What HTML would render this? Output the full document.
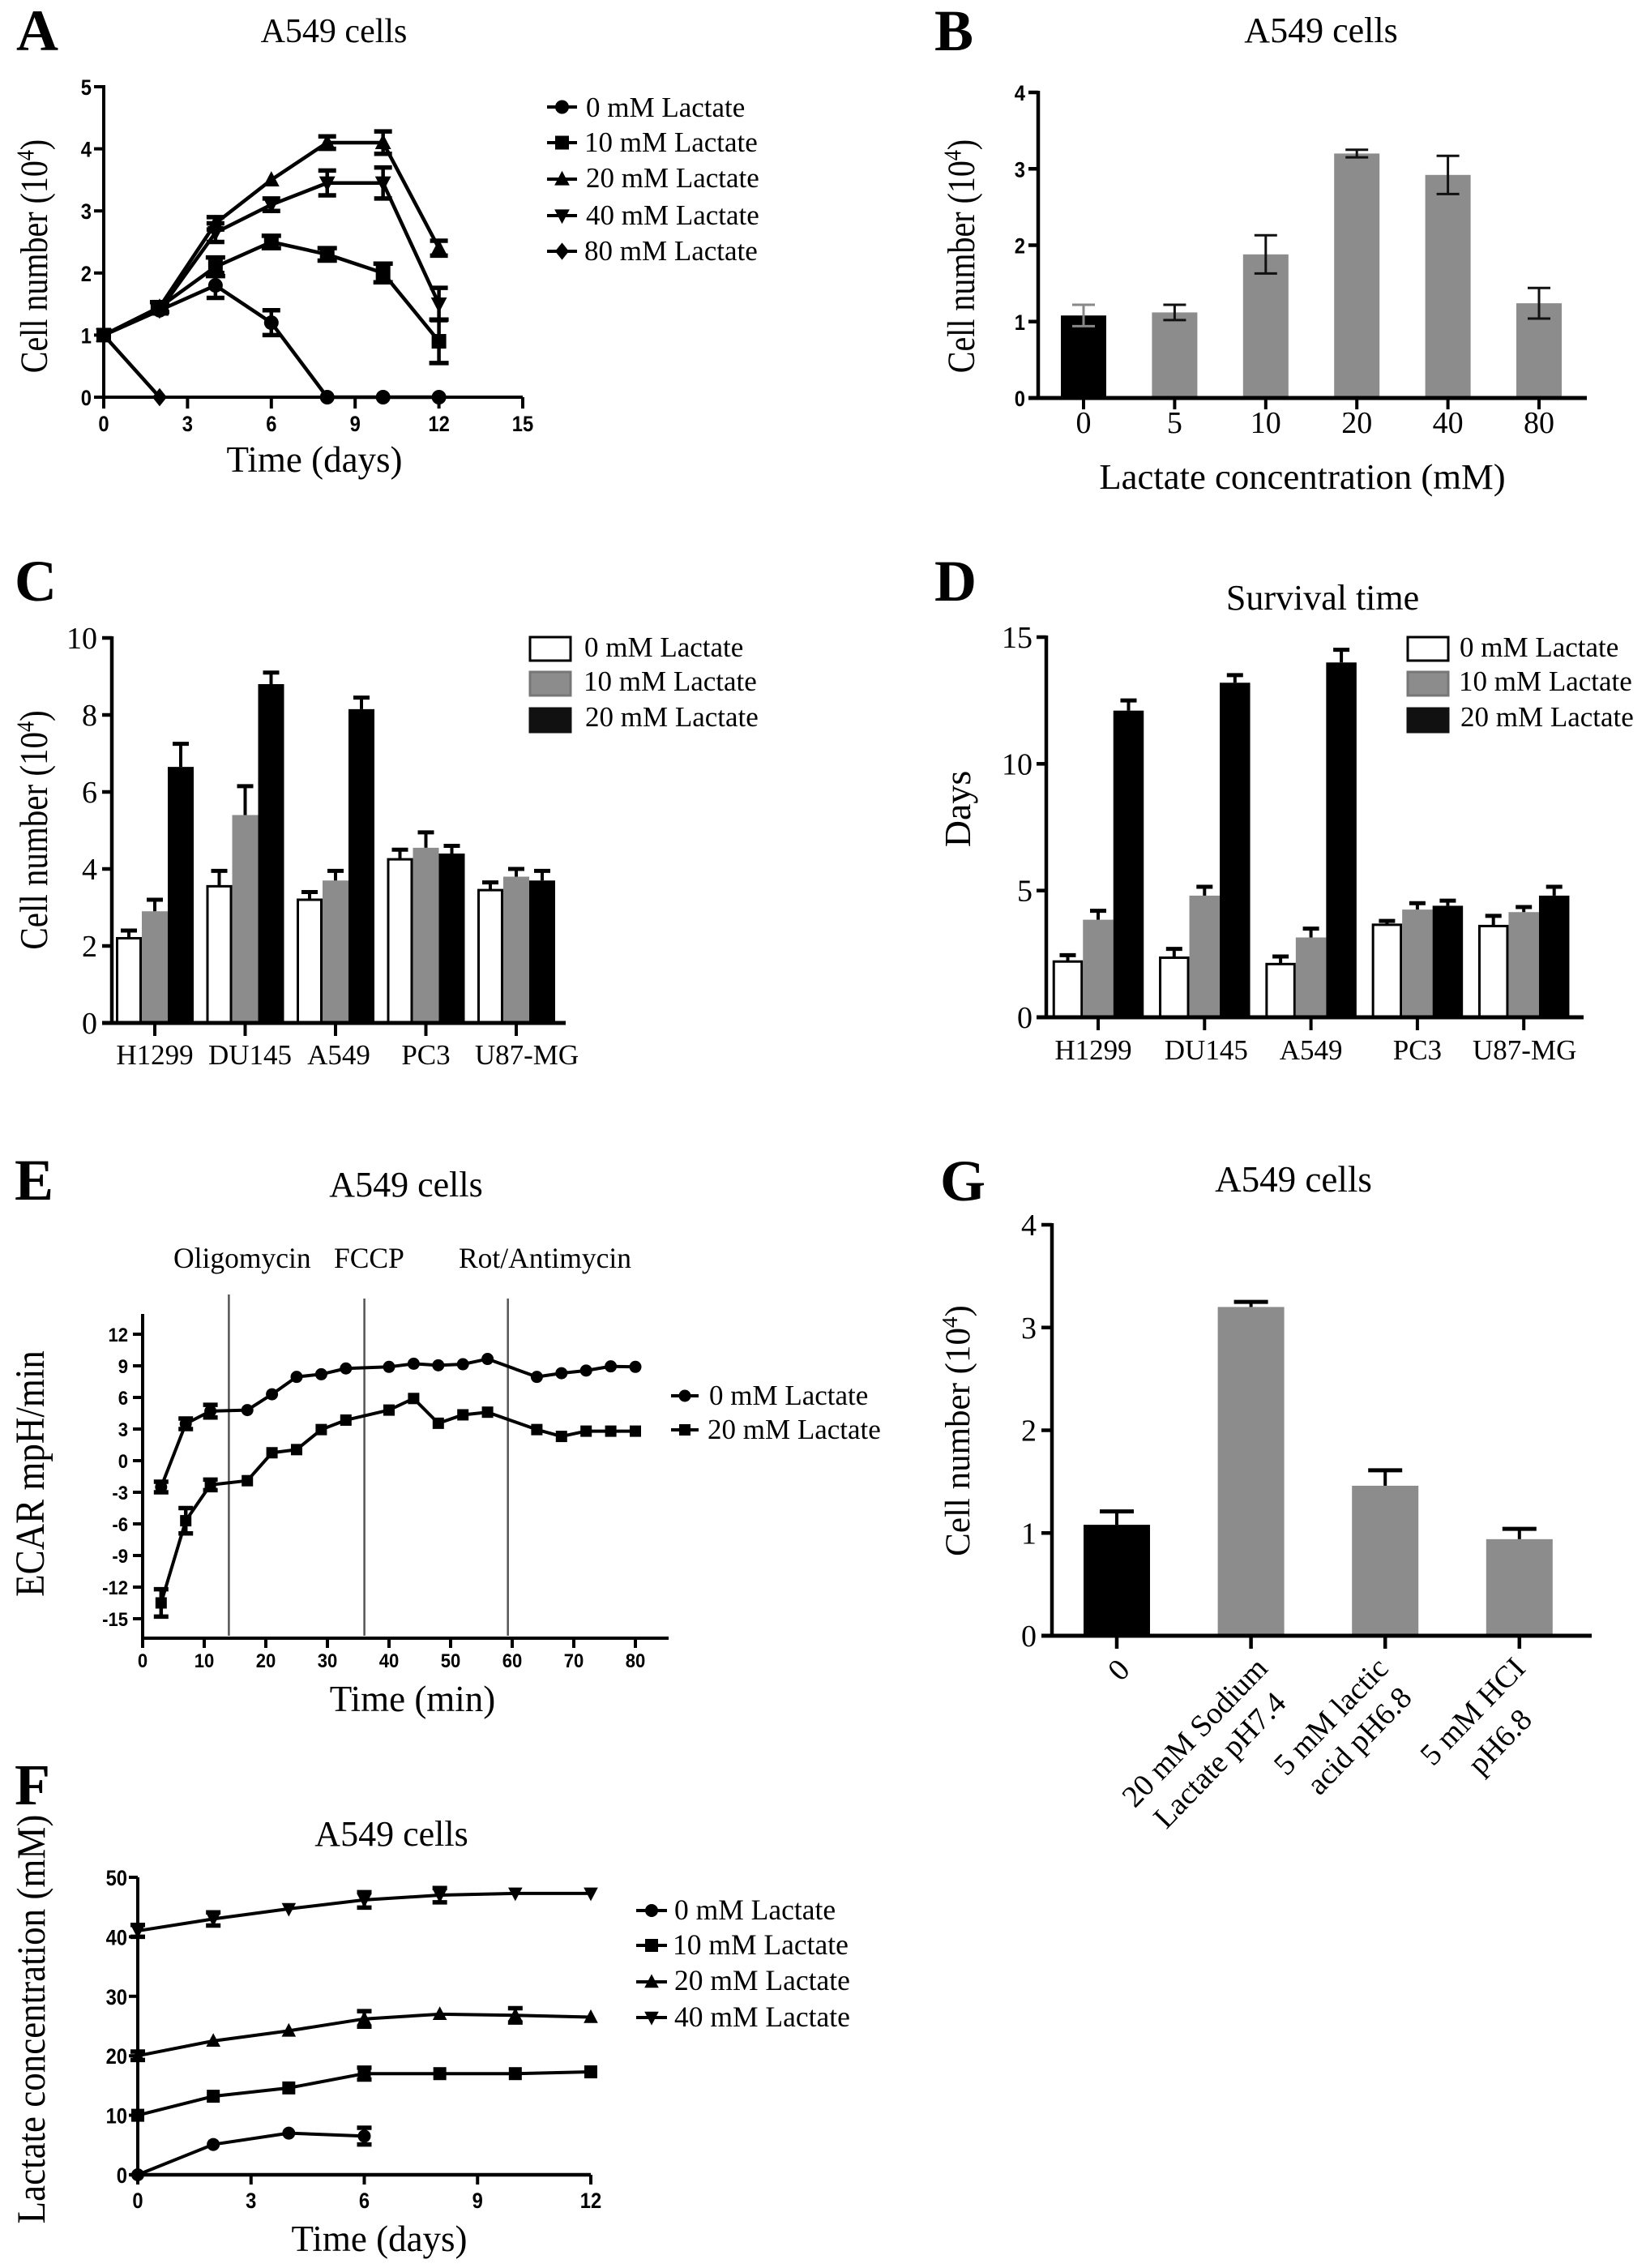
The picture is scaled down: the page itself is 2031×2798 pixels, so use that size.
<!DOCTYPE html>
<html lang="en">
<head>
<meta charset="utf-8">
<title>Lactate effects on A549 and other cell lines</title>
<style>
html,body{margin:0;padding:0;background:#fff;width:2031px;height:2798px;overflow:hidden}
svg{display:block}
text{font-family:"Liberation Serif",serif;fill:#000}
.letter{font-weight:bold;font-size:72px}
.title{font-size:42px;text-anchor:middle}
.axt{font-size:44px;text-anchor:middle}
.yt{font-size:40px;text-anchor:middle}
.leg{font-size:35px}
.ann{font-size:35.5px}
.cat{font-size:38px;text-anchor:end}
</style>
</head>
<body>
<svg id="fig" xmlns="http://www.w3.org/2000/svg" width="2031" height="2798" viewBox="0 0 2031 2798">
<rect x="0" y="0" width="2031" height="2798" fill="#fff"/>

<text class="letter" x="20" y="62">A</text>
<text class="title" x="412" y="52">A549 cells</text>
<text class="axt" x="388" y="582" style="font-size:45px">Time (days)</text>
<text class="yt" transform="translate(58,316) rotate(-90) scale(1,1.18)">Cell number (10<tspan font-size="26" dy="-14">4</tspan><tspan dy="14">)</tspan></text>
<text class="leg" x="723" y="144">0 mM Lactate</text>
<text class="leg" x="721" y="187">10 mM Lactate</text>
<text class="leg" x="723" y="231">20 mM Lactate</text>
<text class="leg" x="723" y="277">40 mM Lactate</text>
<text class="leg" x="721" y="321">80 mM Lactate</text>

<text class="letter" x="1153" y="62">B</text>
<text class="title" x="1630" y="52" style="font-size:44px">A549 cells</text>
<text class="axt" x="1607" y="603" style="font-size:44.7px">Lactate concentration (mM)</text>
<text class="yt" transform="translate(1202,316) rotate(-90) scale(1,1.18)">Cell number (10<tspan font-size="26" dy="-14">4</tspan><tspan dy="14">)</tspan></text>

<text class="letter" x="18" y="741">C</text>
<text class="yt" transform="translate(58,1024) rotate(-90) scale(1,1.18)" style="font-size:41px">Cell number (10<tspan font-size="26" dy="-14">4</tspan><tspan dy="14">)</tspan></text>
<text class="leg" x="721" y="810">0 mM Lactate</text>
<text class="leg" x="720" y="852">10 mM Lactate</text>
<text class="leg" x="722" y="896">20 mM Lactate</text>

<text class="letter" x="1153" y="741">D</text>
<text class="title" x="1632" y="752" style="font-size:44px">Survival time</text>
<text class="yt" transform="translate(1197,998) rotate(-90)" style="font-size:46px">Days</text>
<text class="leg" x="1801" y="810">0 mM Lactate</text>
<text class="leg" x="1800" y="852">10 mM Lactate</text>
<text class="leg" x="1802" y="896">20 mM Lactate</text>

<text class="letter" x="18" y="1480">E</text>
<text class="title" x="501" y="1476" style="font-size:44px">A549 cells</text>
<text class="ann" x="214" y="1564">Oligomycin</text>
<text class="ann" x="412" y="1564">FCCP</text>
<text class="ann" x="566" y="1564">Rot/Antimycin</text>
<text class="axt" x="509" y="2111" style="font-size:45px">Time (min)</text>
<text class="yt" transform="translate(54,1818) rotate(-90) scale(1,1.12)" style="font-size:45px">ECAR mpH/min</text>
<text class="leg" x="875" y="1733">0 mM Lactate</text>
<text class="leg" x="873" y="1775">20 mM Lactate</text>

<text class="letter" x="18" y="2226">F</text>
<text class="title" x="483" y="2277" style="font-size:44px">A549 cells</text>
<text class="axt" x="468" y="2777" style="font-size:45px">Time (days)</text>
<text class="yt" transform="translate(55,2491) rotate(-90) scale(1,1.1)" style="font-size:45px">Lactate concentration (mM)</text>
<text class="leg" x="832" y="2368" style="font-size:35.5px">0 mM Lactate</text>
<text class="leg" x="830" y="2411" style="font-size:35.5px">10 mM Lactate</text>
<text class="leg" x="832" y="2455" style="font-size:35.5px">20 mM Lactate</text>
<text class="leg" x="832" y="2500" style="font-size:35.5px">40 mM Lactate</text>

<text class="letter" x="1160" y="1481">G</text>
<text class="title" x="1596" y="1470" style="font-size:45px">A549 cells</text>
<text class="yt" transform="translate(1196,1765) rotate(-90)" style="font-size:43px">Cell number (10<tspan font-size="27" dy="-15">4</tspan><tspan dy="15">)</tspan></text>
<g transform="translate(1396,2062) rotate(-46)"><text class="cat" x="0" y="0">0</text></g>
<g transform="translate(1566,2060) rotate(-46)"><text class="cat" x="0" y="0">20 mM Sodium</text><text class="cat" x="-15" y="46">Lactate pH7.4</text></g>
<g transform="translate(1715,2060) rotate(-46)"><text class="cat" x="0" y="0">5 mM lactic</text><text class="cat" x="-6" y="46">acid pH6.8</text></g>
<g transform="translate(1884,2060) rotate(-46)"><text class="cat" x="0" y="0">5 mM HCI</text><text class="cat" x="-40" y="50">pH6.8</text></g>
</svg>

<script>
/* ---------- Panel A data ---------- */
const aDays = [0, 2, 4, 6, 8, 10, 12];
const a0Mean = [1, 1.4, 1.8, 1.2, 0, 0, 0];
const a0Err = [0, 0.05, 0.2, 0.2, 0, 0, 0];
const a10Mean = [1, 1.45, 2.1, 2.5, 2.3, 2, 0.9];
const a10Err = [0, 0.08, 0.15, 0.1, 0.1, 0.15, 0.35];
const a20Mean = [1, 1.45, 2.8, 3.5, 4.1, 4.1, 2.4];
const a20Err = [0, 0.05, 0.1, 0, 0.1, 0.18, 0.12];
const a40Mean = [1, 1.4, 2.65, 3.1, 3.45, 3.45, 1.5];
const a40Err = [0, 0.05, 0.15, 0.1, 0.2, 0.25, 0.26];
const a80Days = [0, 2];
const a80Mean = [1, 0];
const a80Err = [0, 0];
const aXTicks = [0, 3, 6, 9, 12, 15];
const aYTicks = [0, 1, 2, 3, 4, 5];

/* ---------- Panel B data ---------- */
const bCats = ['0', '5', '10', '20', '40', '80'];
const bMean = [1.08, 1.12, 1.88, 3.2, 2.92, 1.24];
const bErr = [0.14, 0.1, 0.25, 0.05, 0.25, 0.2];
const bYTicks = [0, 1, 2, 3, 4];

/* ---------- Panel C data ---------- */
const cCats = ['H1299', 'DU145', 'A549', 'PC3', 'U87-MG'];
const c0Mean = [2.2, 3.55, 3.2, 4.25, 3.45];
const c0Err = [0.2, 0.4, 0.2, 0.25, 0.2];
const c10Mean = [2.9, 5.4, 3.7, 4.55, 3.8];
const c10Err = [0.3, 0.75, 0.25, 0.4, 0.2];
const c20Mean = [6.65, 8.8, 8.15, 4.4, 3.7];
const c20Err = [0.6, 0.3, 0.3, 0.2, 0.25];
const cYTicks = [0, 2, 4, 6, 8, 10];

/* ---------- Panel D data ---------- */
const dCats = ['H1299', 'DU145', 'A549', 'PC3', 'U87-MG'];
const d0Mean = [2.2, 2.35, 2.1, 3.65, 3.6];
const d0Err = [0.25, 0.35, 0.3, 0.15, 0.4];
const d10Mean = [3.85, 4.8, 3.15, 4.25, 4.15];
const d10Err = [0.35, 0.35, 0.35, 0.25, 0.2];
const d20Mean = [12.1, 13.2, 14, 4.4, 4.8];
const d20Err = [0.4, 0.3, 0.5, 0.2, 0.35];
const dYTicks = [0, 5, 10, 15];

/* ---------- Panel E data ---------- */
const eTimes = [3, 7, 11, 17, 21, 25, 29, 33, 40, 44, 48, 52, 56, 64, 68, 72, 76, 80];
const e0Mean = [-2.5, 3.5, 4.7, 4.8, 6.3, 7.95, 8.2, 8.75, 8.9, 9.2, 9.05, 9.15, 9.65, 7.95, 8.3, 8.55, 8.95, 8.9];
const e0Err = [0.5, 0.5, 0.6, 0, 0, 0, 0, 0, 0, 0, 0, 0, 0, 0, 0, 0, 0, 0];
const e20Mean = [-13.5, -5.7, -2.3, -1.9, 0.75, 1.05, 2.95, 3.85, 4.8, 5.9, 3.55, 4.35, 4.6, 2.95, 2.3, 2.8, 2.8, 2.8];
const e20Err = [1.3, 1.2, 0.5, 0, 0, 0, 0, 0, 0, 0, 0, 0, 0, 0, 0, 0, 0, 0];
const eDrugTimes = [14, 36, 59.3];
const eXTicks = [0, 10, 20, 30, 40, 50, 60, 70, 80];
const eYTicks = [-15, -12, -9, -6, -3, 0, 3, 6, 9, 12];

/* ---------- Panel F data ---------- */
const fDays = [0, 2, 4, 6, 8, 10, 12];
const f0Days = [0, 2, 4, 6];
const f0Mean = [0, 5.1, 7, 6.5];
const f0Err = [0, 0, 0, 1.4];
const f10Mean = [10, 13.2, 14.6, 17, 17, 17, 17.3];
const f10Err = [0, 0, 0, 1, 0, 0, 0];
const f20Mean = [20, 22.5, 24.2, 26.2, 27, 26.8, 26.5];
const f20Err = [0.7, 0, 0, 1.3, 0, 1.2, 0];
const f40Mean = [41, 43, 44.7, 46.2, 47, 47.3, 47.3];
const f40Err = [1, 1.1, 0, 1.3, 1.2, 0, 0];
const fXTicks = [0, 3, 6, 9, 12];
const fYTicks = [0, 10, 20, 30, 40, 50];

/* ---------- Panel G data ---------- */
const gCats = ['0', 'sodium-lactate', 'lactic-acid', 'hcl'];
const gMean = [1.08, 3.2, 1.46, 0.94];
const gErr = [0.13, 0.05, 0.15, 0.1];
const gYTicks = [0, 1, 2, 3, 4];

const SVGNS = 'http://www.w3.org/2000/svg';
const fig = document.getElementById('fig');
const GREY = '#8c8c8c';

function add(parent, tag, attrs, name) {
  const el = document.createElementNS(SVGNS, tag);
  for (const k in attrs) el.setAttribute(k, attrs[k]);
  
  
  parent.appendChild(el);
  return el;
}
function group(name) { return add(fig, 'g', {}, name); }
function linear(d0, d1, r0, r1) { return v => r0 + (v - d0) * (r1 - r0) / (d1 - d0); }
function seg(p, x1, y1, x2, y2, w, name, color) {
  return add(p, 'line', { x1, y1, x2, y2, stroke: color || '#000', 'stroke-width': w }, name);
}
function label(p, x, y, str, anchor, style, name) {
  const t = add(p, 'text', { 'text-anchor': anchor }, name);
  t.textContent = str;
  if (style === 'sans') {
    t.setAttribute('transform', 'translate(' + x + ',' + y + ') scale(0.88,1)');
    t.setAttribute('style', 'font-family:"Liberation Sans",sans-serif;font-weight:bold;font-size:27px');
  } else if (style === 'sans-small') {
    t.setAttribute('transform', 'translate(' + x + ',' + y + ') scale(0.92,1)');
    t.setAttribute('style', 'font-family:"Liberation Sans",sans-serif;font-weight:bold;font-size:24px');
  } else {
    t.setAttribute('x', x);
    t.setAttribute('y', y);
    t.setAttribute('style', 'font-size:' + style + 'px');
  }
  return t;
}
function marker(p, kind, x, y, s, name) {
  if (kind === 'circle') return add(p, 'circle', { cx: x, cy: y, r: s, fill: '#000' }, name);
  if (kind === 'square') return add(p, 'rect', { x: x - s, y: y - s, width: 2 * s, height: 2 * s, fill: '#000' }, name);
  let pts;
  if (kind === 'up') pts = [[x, y - s * 1.2], [x + s * 1.1, y + s * 0.9], [x - s * 1.1, y + s * 0.9]];
  if (kind === 'down') pts = [[x, y + s * 1.2], [x + s * 1.1, y - s * 0.9], [x - s * 1.1, y - s * 0.9]];
  if (kind === 'diamond') pts = [[x, y - s * 1.25], [x + s, y], [x, y + s * 1.25], [x - s, y]];
  return add(p, 'polygon', { points: pts.map(q => q.join(',')).join(' '), fill: '#000' }, name);
}
function series(p, prefix, xs, ys, errs, sx, sy, kind, size, capW, w) {
  const pts = xs.map((x, i) => sx(x) + ',' + sy(ys[i])).join(' ');
  add(p, 'polyline', { points: pts, fill: 'none', stroke: '#000', 'stroke-width': w, 'stroke-linejoin': 'round' }, prefix + '-line');
  xs.forEach((x, i) => {
    const px = sx(x);
    if (errs[i] > 0) {
      seg(p, px, sy(ys[i] - errs[i]), px, sy(ys[i] + errs[i]), 4.5, prefix + '-error-bar');
      seg(p, px - capW, sy(ys[i] + errs[i]), px + capW, sy(ys[i] + errs[i]), 5.5, prefix + '-error-cap-top');
      seg(p, px - capW, sy(ys[i] - errs[i]), px + capW, sy(ys[i] - errs[i]), 5.5, prefix + '-error-cap-bottom');
    }
    marker(p, kind, px, sy(ys[i]), size, prefix + '-point');
  });
}
function legendKey(p, name, kind, x1, x2, y, size) {
  seg(p, x1, y, x2, y, 4, name + '-line');
  marker(p, kind, (x1 + x2) / 2, y, size, name + '-marker');
}
function swatch(p, name, x, y, w, h, fill) {
  add(p, 'rect', { x: x, y: y, width: w, height: h, fill: fill, stroke: fill === '#fff' ? '#000' : (fill === GREY ? '#777' : '#111'), 'stroke-width': 3 }, name);
}

/* Panel A */
(function () {
  const g = group('panel-a-chart');
  const sx = linear(0, 15, 128, 645);
  const sy = linear(0, 5, 490, 107);
  seg(g, sx(0), sy(5) - 2, sx(0), sy(0) + 14, 4, 'y-axis');
  seg(g, sx(0) - 12, sy(0), sx(15), sy(0), 4, 'x-axis');
  aYTicks.forEach(t => {
    seg(g, sx(0) - 12, sy(t), sx(0), sy(t), 4, 'y-tick');
    label(g, 113, sy(t) + 10, String(t), 'end', 'sans', 'y-tick-label');
  });
  aXTicks.forEach(t => {
    seg(g, sx(t), sy(0), sx(t), sy(0) + 14, 4, 'x-tick');
    label(g, sx(t), 532, String(t), 'middle', 'sans', 'x-tick-label');
  });
  series(g, 'series-0mm', aDays, a0Mean, a0Err, sx, sy, 'circle', 9, 11, 4.5);
  series(g, 'series-10mm', aDays, a10Mean, a10Err, sx, sy, 'square', 9, 12, 4.5);
  series(g, 'series-20mm', aDays, a20Mean, a20Err, sx, sy, 'up', 9, 11, 4.5);
  series(g, 'series-40mm', aDays, a40Mean, a40Err, sx, sy, 'down', 9, 11, 4.5);
  series(g, 'series-80mm', a80Days, a80Mean, a80Err, sx, sy, 'diamond', 9, 11, 4.5);
  legendKey(g, 'legend-key-0mm', 'circle', 675, 712, 132, 8.5);
  legendKey(g, 'legend-key-10mm', 'square', 675, 712, 176, 8.5);
  legendKey(g, 'legend-key-20mm', 'up', 675, 712, 221, 8.5);
  legendKey(g, 'legend-key-40mm', 'down', 675, 712, 266, 8.5);
  legendKey(g, 'legend-key-80mm', 'diamond', 675, 712, 310, 8.5);
})();

/* Panel B */
(function () {
  const g = group('panel-b-chart');
  const sx = i => 1337 + i * 112.4;
  const sy = linear(0, 4, 491, 114);
  const fills = ['#000', GREY, GREY, GREY, GREY, GREY];
  const bw = 56;
  bCats.forEach((c, i) => {
    add(g, 'rect', { x: sx(i) - bw / 2, y: sy(bMean[i]), width: bw, height: sy(0) - sy(bMean[i]), fill: fills[i] }, 'bar-' + c + '-mm');
    const col = i === 0 ? '#888' : '#111';
    seg(g, sx(i), sy(bMean[i] + bErr[i]), sx(i), sy(bMean[i] - bErr[i]), 3, 'error-bar', col);
    seg(g, sx(i) - 14, sy(bMean[i] + bErr[i]), sx(i) + 14, sy(bMean[i] + bErr[i]), 3, 'error-cap-top', col);
    seg(g, sx(i) - 14, sy(bMean[i] - bErr[i]), sx(i) + 14, sy(bMean[i] - bErr[i]), 3, 'error-cap-bottom', col);
    seg(g, sx(i), sy(0), sx(i), sy(0) + 14, 4, 'x-tick');
    label(g, sx(i), 534, c, 'middle', 38, 'x-tick-label');
  });
  seg(g, 1281, sy(4) - 2, 1281, sy(0), 4.5, 'y-axis');
  seg(g, 1269, sy(0), 1958, sy(0), 5, 'x-axis');
  bYTicks.forEach(t => {
    seg(g, 1269, sy(t), 1281, sy(t), 4.5, 'y-tick');
    label(g, 1265, sy(t) + 10, String(t), 'end', 'sans', 'y-tick-label');
  });
})();

/* Grouped bars (panels C, D) */
function grouped(g, cats, means, errs, c0, step, bw, sy, yDomainMax, axisX, axisEnd, yTicks, labelX, labelOffsets, labelBase, fontSize) {
  const fills = ['#fff', GREY, '#000'];
  const names = ['0mm', '10mm', '20mm'];
  cats.forEach((c, i) => {
    means.forEach((m, s) => {
      const x = c0 + i * step + (s - 1) * bw;
      const r = add(g, 'rect', { x: x - bw / 2, y: sy(m[i]), width: bw, height: sy(0) - sy(m[i]), fill: fills[s] }, 'bar-' + c + '-' + names[s]);
      if (s === 0) {
        r.setAttribute('stroke', '#000');
        r.setAttribute('stroke-width', 3);
        r.setAttribute('x', x - bw / 2 + 1.5);
        r.setAttribute('width', bw - 3);
      }
      seg(g, x, sy(m[i]), x, sy(m[i] + errs[s][i]), 4, 'error-bar');
      seg(g, x - 10, sy(m[i] + errs[s][i]), x + 10, sy(m[i] + errs[s][i]), 5, 'error-cap');
    });
    const cx = c0 + i * step;
    seg(g, cx, sy(0), cx, sy(0) + 16, 4, 'x-tick');
    label(g, cx + labelOffsets[i], labelBase, c, 'middle', 35, 'x-tick-label');
  });
  seg(g, axisX, sy(yDomainMax) - 2, axisX, sy(0), 4.5, 'y-axis');
  seg(g, axisX - 12, sy(0), axisEnd, sy(0), 5, 'x-axis');
  yTicks.forEach(t => {
    seg(g, axisX - 12, sy(t), axisX, sy(t), 4.5, 'y-tick');
    label(g, labelX, sy(t) + 13, String(t), 'end', fontSize, 'y-tick-label');
  });
}
(function () {
  const g = group('panel-c-chart');
  grouped(g, cCats, [c0Mean, c10Mean, c20Mean], [c0Err, c10Err, c20Err], 191, 111.5, 32, linear(0, 10, 1262, 787), 10, 138, 698, cYTicks, 120, [0, 6, 4, 0, 13], 1313, 38);
  swatch(g, 'legend-swatch-0mm', 654, 786, 50, 29, '#fff');
  swatch(g, 'legend-swatch-10mm', 654, 829, 50, 29, GREY);
  swatch(g, 'legend-swatch-20mm', 654, 874, 50, 29, '#111');
})();
(function () {
  const g = group('panel-d-chart');
  grouped(g, dCats, [d0Mean, d10Mean, d20Mean], [d0Err, d10Err, d20Err], 1355, 131.3, 37.5, linear(0, 15, 1255, 786), 15, 1291, 1954, dYTicks, 1274, [-6, 2, 0, 0, 1], 1307, 38);
  swatch(g, 'legend-swatch-0mm', 1737, 786, 50, 29, '#fff');
  swatch(g, 'legend-swatch-10mm', 1737, 829, 50, 29, GREY);
  swatch(g, 'legend-swatch-20mm', 1737, 874, 50, 29, '#111');
})();

/* Panel E */
(function () {
  const g = group('panel-e-chart');
  const sx = linear(0, 80, 176, 784);
  const sy = linear(-15, 12, 1997, 1646);
  eDrugTimes.forEach((t, i) => {
    seg(g, sx(t), 1597 + (i ? 5 : 0), sx(t), 2018, 2.5, 'drug-injection-line', '#555');
  });
  seg(g, 176, 1621, 176, 2021, 4, 'y-axis');
  seg(g, 176, 2021, 825, 2021, 4, 'x-axis');
  eYTicks.forEach(t => {
    seg(g, 164, sy(t), 176, sy(t), 4, 'y-tick');
    label(g, 158, sy(t) + 9, String(t), 'end', 'sans-small', 'y-tick-label');
  });
  eXTicks.forEach(t => {
    seg(g, sx(t), 2021, sx(t), 2033, 4, 'x-tick');
    label(g, sx(t), 2057, String(t), 'middle', 'sans-small', 'x-tick-label');
  });
  series(g, 'series-0mm', eTimes, e0Mean, e0Err, sx, sy, 'circle', 7.5, 9, 4);
  series(g, 'series-20mm', eTimes, e20Mean, e20Err, sx, sy, 'square', 7, 9, 4);
  legendKey(g, 'legend-key-0mm', 'circle', 828, 862, 1722, 7.5);
  legendKey(g, 'legend-key-20mm', 'square', 828, 862, 1764, 7);
})();

/* Panel F */
(function () {
  const g = group('panel-f-chart');
  const sx = linear(0, 12, 170, 729);
  const sy = linear(0, 50, 2683, 2316);
  seg(g, sx(0), sy(50), sx(0), sy(0) + 12, 4, 'y-axis');
  seg(g, sx(0) - 10, sy(0), sx(12), sy(0), 4.5, 'x-axis');
  fYTicks.forEach(t => {
    seg(g, sx(0) - 11, sy(t), sx(0), sy(t), 4, 'y-tick');
    label(g, 157, sy(t) + 10, String(t), 'end', 'sans', 'y-tick-label');
  });
  fXTicks.forEach(t => {
    seg(g, sx(t), sy(0), sx(t), sy(0) + 12, 4, 'x-tick');
    label(g, sx(t), 2724, String(t), 'middle', 'sans', 'x-tick-label');
  });
  series(g, 'series-0mm', f0Days, f0Mean, f0Err, sx, sy, 'circle', 8, 9, 4);
  series(g, 'series-10mm', fDays, f10Mean, f10Err, sx, sy, 'square', 8, 9, 4);
  series(g, 'series-20mm', fDays, f20Mean, f20Err, sx, sy, 'up', 8, 9, 4);
  series(g, 'series-40mm', fDays, f40Mean, f40Err, sx, sy, 'down', 8, 9, 4);
  legendKey(g, 'legend-key-0mm', 'circle', 785, 823, 2357, 8);
  legendKey(g, 'legend-key-10mm', 'square', 785, 823, 2400, 8);
  legendKey(g, 'legend-key-20mm', 'up', 785, 823, 2445, 8);
  legendKey(g, 'legend-key-40mm', 'down', 785, 823, 2489, 8);
})();

/* Panel G */
(function () {
  const g = group('panel-g-chart');
  const sx = i => 1378 + i * 165.6;
  const sy = linear(0, 4, 2018, 1511);
  const fills = ['#000', GREY, GREY, GREY];
  const bw = 82;
  gCats.forEach((c, i) => {
    add(g, 'rect', { x: sx(i) - bw / 2, y: sy(gMean[i]), width: bw, height: sy(0) - sy(gMean[i]), fill: fills[i] }, 'bar-' + c);
    seg(g, sx(i), sy(gMean[i]), sx(i), sy(gMean[i] + gErr[i]), 4, 'error-bar');
    seg(g, sx(i) - 21, sy(gMean[i] + gErr[i]), sx(i) + 21, sy(gMean[i] + gErr[i]), 5, 'error-cap');
    seg(g, sx(i), sy(0), sx(i), sy(0) + 16, 4.5, 'x-tick');
  });
  seg(g, 1298, sy(4) - 2, 1298, sy(0), 4.5, 'y-axis');
  seg(g, 1285, sy(0), 1964, sy(0), 5, 'x-axis');
  gYTicks.forEach(t => {
    seg(g, 1285, sy(t), 1298, sy(t), 4.5, 'y-tick');
    label(g, 1279, sy(t) + 13, String(t), 'end', 38, 'y-tick-label');
  });
})();
</script>
</body>
</html>
